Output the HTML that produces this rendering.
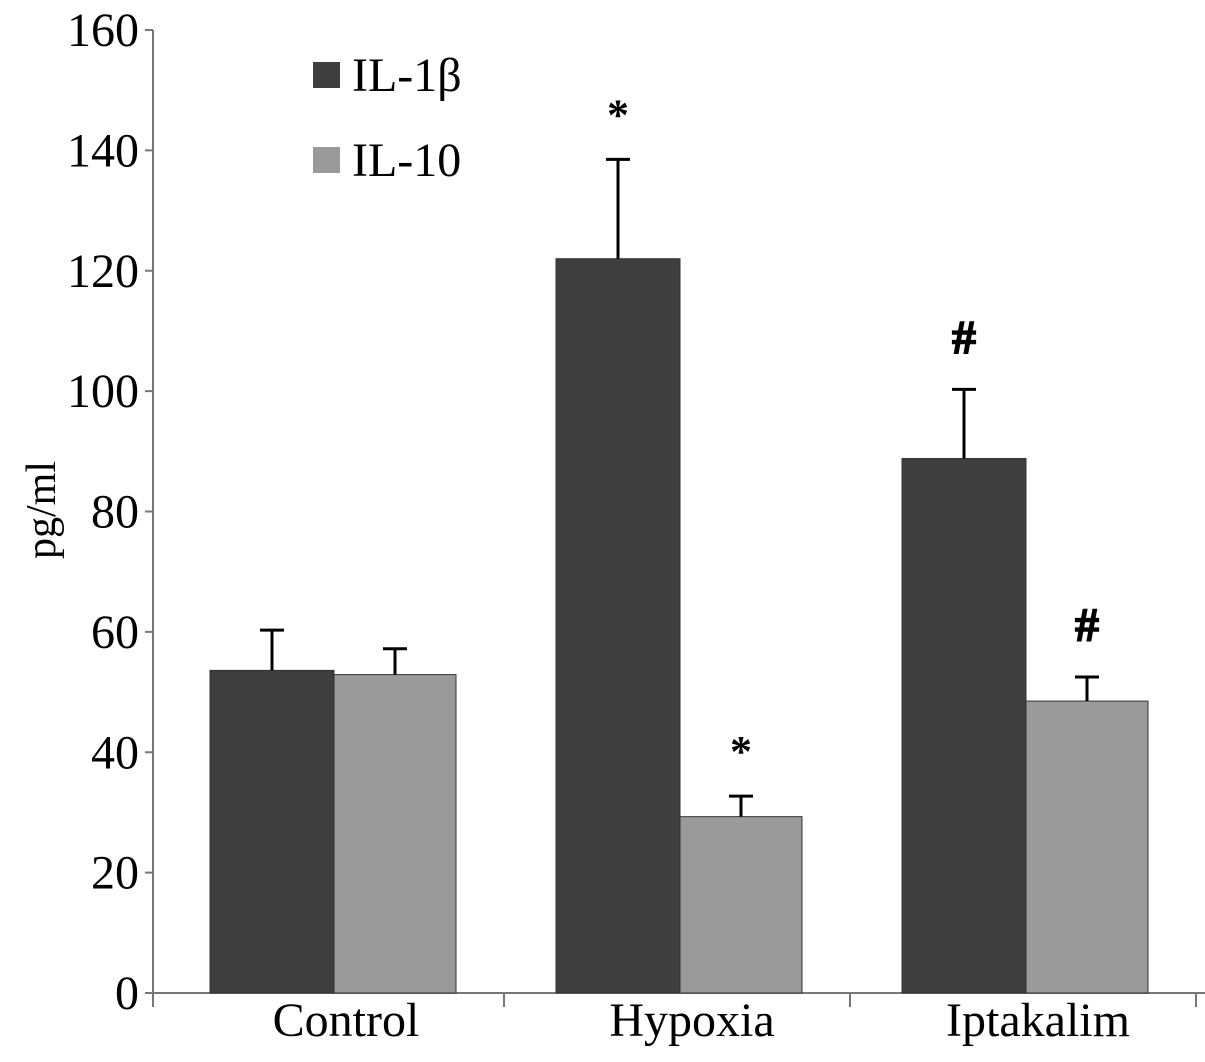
<!DOCTYPE html>
<html><head><meta charset="utf-8"><style>
body{margin:0;background:#fff;}
text{font-family:"Liberation Serif",serif;fill:#000;}
</style></head><body>
<svg width="1205" height="1057">
<g id="chart"></g>
</svg>
<script>
const categories=["Control","Hypoxia","Iptakalim"];
const il1b=[53.6,122.0,88.8];
const il1bErr=[6.7,16.5,11.5];
const il10=[52.9,29.3,48.5];
const il10Err=[4.3,3.4,4.0];
const marks1=["","*","#"];
const marks2=["","*","#"];
const yTicks=[0,20,40,60,80,100,120,140,160];
const NS="http://www.w3.org/2000/svg";
const g=document.getElementById('chart');
const X0=153,Y0=993,YT=30,GW=346;
const y=v=>Y0-(v/160)*(Y0-YT);
function el(t,a,p){const e=document.createElementNS(NS,t);for(const k in a)e.setAttribute(k,a[k]);(p||g).appendChild(e);return e;}
const ax=el('line',{x1:X0,y1:YT,x2:X0,y2:Y0,stroke:'#777','stroke-width':2});


const xa=el('line',{x1:X0-6,y1:Y0,x2:1205,y2:Y0,stroke:'#777','stroke-width':2});


yTicks.forEach(v=>{
  el('line',{x1:X0-8,y1:y(v),x2:X0,y2:y(v),stroke:'#777','stroke-width':2});
  const t=el('text',{x:X0-14,y:y(v)+16,'text-anchor':'end','font-size':48});
  t.textContent=v;
  
  
});
for(let i=0;i<=3;i++)el('line',{x1:X0+i*GW+(i>0?5:0),y1:Y0,x2:X0+i*GW+(i>0?5:0),y2:Y0+14,stroke:'#777','stroke-width':2});
const yl=el('text',{transform:'translate(55,510) rotate(-90)','text-anchor':'middle','font-size':42});
yl.textContent='pg/ml';


function bar(x,w,v,e,col,mark,name){
  const r=el('rect',{x:x,y:y(v),width:w,height:Y0-y(v),fill:col,stroke:'#333','stroke-width':1});
  
  
  const cx=x+w/2;
  el('line',{x1:cx,y1:y(v),x2:cx,y2:y(v+e),stroke:'#000','stroke-width':3});
  el('line',{x1:cx-12,y1:y(v+e),x2:cx+12,y2:y(v+e),stroke:'#000','stroke-width':3});
  if(mark){const t=el('text',{x:cx,y:y(v+e)-(mark=='*'?30:36),'text-anchor':'middle','font-size':mark=='*'?44:48,'font-weight':'bold','stroke':'#000','stroke-width':mark=='#'?1.5:0});t.textContent=mark;
  
  }
}
categories.forEach((c,i)=>{
  const gx=210+i*GW;
  bar(gx,124,il1b[i],il1bErr[i],'#3e3e3e',marks1[i],'bar-il1b-'+c.toLowerCase());
  bar(gx+124,122,il10[i],il10Err[i],'#9a9a9a',marks2[i],'bar-il10-'+c.toLowerCase());
  const t=el('text',{x:gx+136,y:1036,'text-anchor':'middle','font-size':48});
  t.textContent=c;
  
  
});
[['IL-1β','#3e3e3e',75],['IL-10','#9a9a9a',160]].forEach(([n,c,yy])=>{
  const r=el('rect',{x:313,y:yy-13,width:27,height:26,fill:c});
  
  
  const t=el('text',{x:352,y:yy+16,'font-size':48});
  t.textContent=n;
  
  
});
</script>
</body></html>
